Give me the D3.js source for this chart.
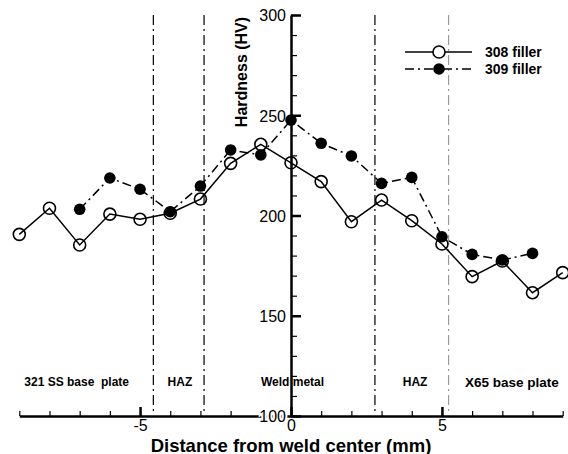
<!DOCTYPE html>
<meta charset="utf-8">
<style>
body { margin: 0; background: #fff; }
text { font-family: "Liberation Sans", Arial, sans-serif; white-space: pre; }
.axis path, .axis line { stroke: #000; }
.lbl { font-weight: bold; fill: #000; }
</style>
<body>
<script src="https://d3js.org/d3.v7.min.js"></script>
<script>

// data
var dist = [-9, -8, -7, -6, -5, -4, -3, -2, -1, 0, 1, 2, 3, 4, 5, 6, 7, 8, 9];
var hv308 = [190.6, 203.6, 185.3, 200.7, 198.1, 201.1, 208.2, 226, 235.5, 226.3,
             216.9, 196.9, 207.7, 197.4, 185.8, 169.5, 177.3, 161.5, 171.5];
var dist309 = [-7, -6, -5, -4, -3, -2, -1, 0, 1, 2, 3, 4, 5, 6, 7, 8];
var hv309 = [203.1, 218.7, 213.1, 201.9, 214.7, 232.7, 230.2, 247.6,
             236, 229.7, 216, 219, 189.4, 180.6, 177.8, 181.1];
var zoneLines = [-4.56, -2.88, 2.78, 5.22];
var zoneLabels = [
  {x: -7.1, text: "321 SS base  plate"},
  {x: -3.68, text: "HAZ"},
  {x: 0.05, text: "Weld metal"},
  {x: 4.11, text: "HAZ"},
  {x: 7.32, text: "X65 base plate"}
];
var xMajor = [-5, 0, 5];
var yMajor = [100, 150, 200, 250, 300];

var svg = d3.select("body").append("svg")
    .attr("width", 568)
    .attr("height", 454);

// scales
var x = d3.scaleLinear().domain([-9, 9]).range([19.3, 562.7]);
var y = d3.scaleLinear().domain([100, 300]).range([416, 15]);

// zone boundaries
svg.selectAll(".zone")
    .data(zoneLines)
  .enter().append("line")
    .attr("x1", function(d) { return x(d); })
    .attr("x2", function(d) { return x(d); })
    .attr("y1", y(300))
    .attr("y2", y(100) - 4)
    .style("stroke", function(d, i) { return i == 3 ? "#999" : "#000"; })
    .style("stroke-width", 1.2)
    .style("stroke-dasharray", "10,4,2,4");

// zone labels
svg.selectAll(".zlbl")
    .data(zoneLabels)
  .enter().append("text")
    .attr("class", "lbl")
    .attr("x", function(d) { return x(d.x); })
    .attr("y", function(d, i) { return i == 4 ? 387 : 386; })
    .attr("text-anchor", "middle")
    .style("font-size", function(d, i) { return i == 4 ? "13.5px" : "12px"; })
    .text(function(d) { return d.text; });

// x axis: minor + major ticks pointing up
svg.append("g")
    .attr("class", "axis")
    .attr("transform", "translate(0," + y(100) + ")")
    .call(d3.axisTop(x).tickValues(d3.range(-9, 10)).tickSize(5).tickSizeOuter(0).tickFormat(""))
    .call(function(g) {
      g.select(".domain").style("stroke-width", 2.5);
      g.selectAll("line").style("stroke-width", 1.2);
    });
svg.append("g")
    .attr("class", "axis")
    .attr("transform", "translate(0," + y(100) + ")")
    .call(d3.axisTop(x).tickValues(xMajor).tickSize(9).tickSizeOuter(0).tickFormat(d3.format("d")))
    .call(function(g) {
      g.select(".domain").remove();
      g.selectAll("line").style("stroke-width", 2.5);
      g.selectAll("text")
          .attr("y", 15)
          .style("font-size", "16px")
          .style("fill", "#000")
          .text(function(d) { return d < 0 ? "-" + Math.abs(d) : d; });
    });

// y axis: ticks on the right, labels on the left
svg.append("g")
    .attr("class", "axis")
    .attr("transform", "translate(" + x(0) + ",0)")
    .call(d3.axisRight(y).tickValues(d3.range(100, 301, 10)).tickSize(6).tickSizeOuter(0).tickFormat(""))
    .call(function(g) {
      g.select(".domain").style("stroke-width", 2.5);
      g.selectAll("line").style("stroke-width", 1.2);
    });
svg.append("g")
    .attr("class", "axis")
    .attr("transform", "translate(" + x(0) + ",0)")
    .call(d3.axisRight(y).tickValues(yMajor).tickSize(10).tickSizeOuter(0))
    .call(function(g) {
      g.select(".domain").remove();
      g.selectAll("line").style("stroke-width", 2.5);
      g.selectAll("text")
          .attr("x", -5)
          .attr("dy", "0.36em")
          .attr("text-anchor", "end")
          .style("font-size", "16px")
          .style("fill", "#000")
          .style("stroke", "#fff")
          .style("stroke-width", 4)
          .style("paint-order", "stroke");
    });

// axis titles
svg.append("text")
    .attr("class", "lbl")
    .attr("x", x(0))
    .attr("y", 451.5)
    .attr("text-anchor", "middle")
    .style("font-size", "18.5px")
    .text("Distance from weld center (mm)");
svg.append("text")
    .attr("class", "lbl")
    .attr("transform", "translate(247,72) rotate(-90)")
    .attr("text-anchor", "middle")
    .style("font-size", "16px")
    .text("Hardness (HV)");

// lines
var line308 = d3.line()
    .x(function(d, i) { return x(dist[i]); })
    .y(function(d) { return y(d); });
var line309 = d3.line()
    .x(function(d, i) { return x(dist309[i]); })
    .y(function(d) { return y(d); });

svg.append("path")
    .attr("d", line309(hv309))
    .style("fill", "none")
    .style("stroke", "#000")
    .style("stroke-width", 1.5)
    .style("stroke-dasharray", "9,4,2,4");
svg.append("path")
    .attr("d", line308(hv308))
    .style("fill", "none")
    .style("stroke", "#000")
    .style("stroke-width", 1.5);

// markers
svg.selectAll(".p309")
    .data(hv309)
  .enter().append("circle")
    .attr("cx", function(d, i) { return x(dist309[i]); })
    .attr("cy", function(d) { return y(d); })
    .attr("r", 5.8)
    .style("fill", "#000");
svg.selectAll(".p308")
    .data(hv308)
  .enter().append("circle")
    .attr("cx", function(d, i) { return x(dist[i]); })
    .attr("cy", function(d) { return y(d); })
    .attr("r", 6)
    .style("fill", "none")
    .style("stroke", "#000")
    .style("stroke-width", 1.6);

// legend
var legend = svg.append("g").attr("transform", "translate(405,52)");
legend.append("line")
    .attr("x1", 0).attr("x2", 67).attr("y1", 0).attr("y2", 0)
    .style("stroke", "#000").style("stroke-width", 1.6);
legend.append("circle")
    .attr("cx", 34).attr("cy", 0).attr("r", 6)
    .style("fill", "#fff").style("stroke", "#000").style("stroke-width", 1.6);
legend.append("line")
    .attr("x1", 0).attr("x2", 67).attr("y1", 17).attr("y2", 17)
    .style("stroke", "#000").style("stroke-width", 1.6)
    .style("stroke-dasharray", "9,4,2,4");
legend.append("circle")
    .attr("cx", 34).attr("cy", 17).attr("r", 5.8)
    .style("fill", "#000");
legend.append("text")
    .attr("class", "lbl")
    .attr("x", 80).attr("y", 5)
    .style("font-size", "14px")
    .text("308 filler");
legend.append("text")
    .attr("class", "lbl")
    .attr("x", 80).attr("y", 22)
    .style("font-size", "14px")
    .text("309 filler");

</script>
</body>
